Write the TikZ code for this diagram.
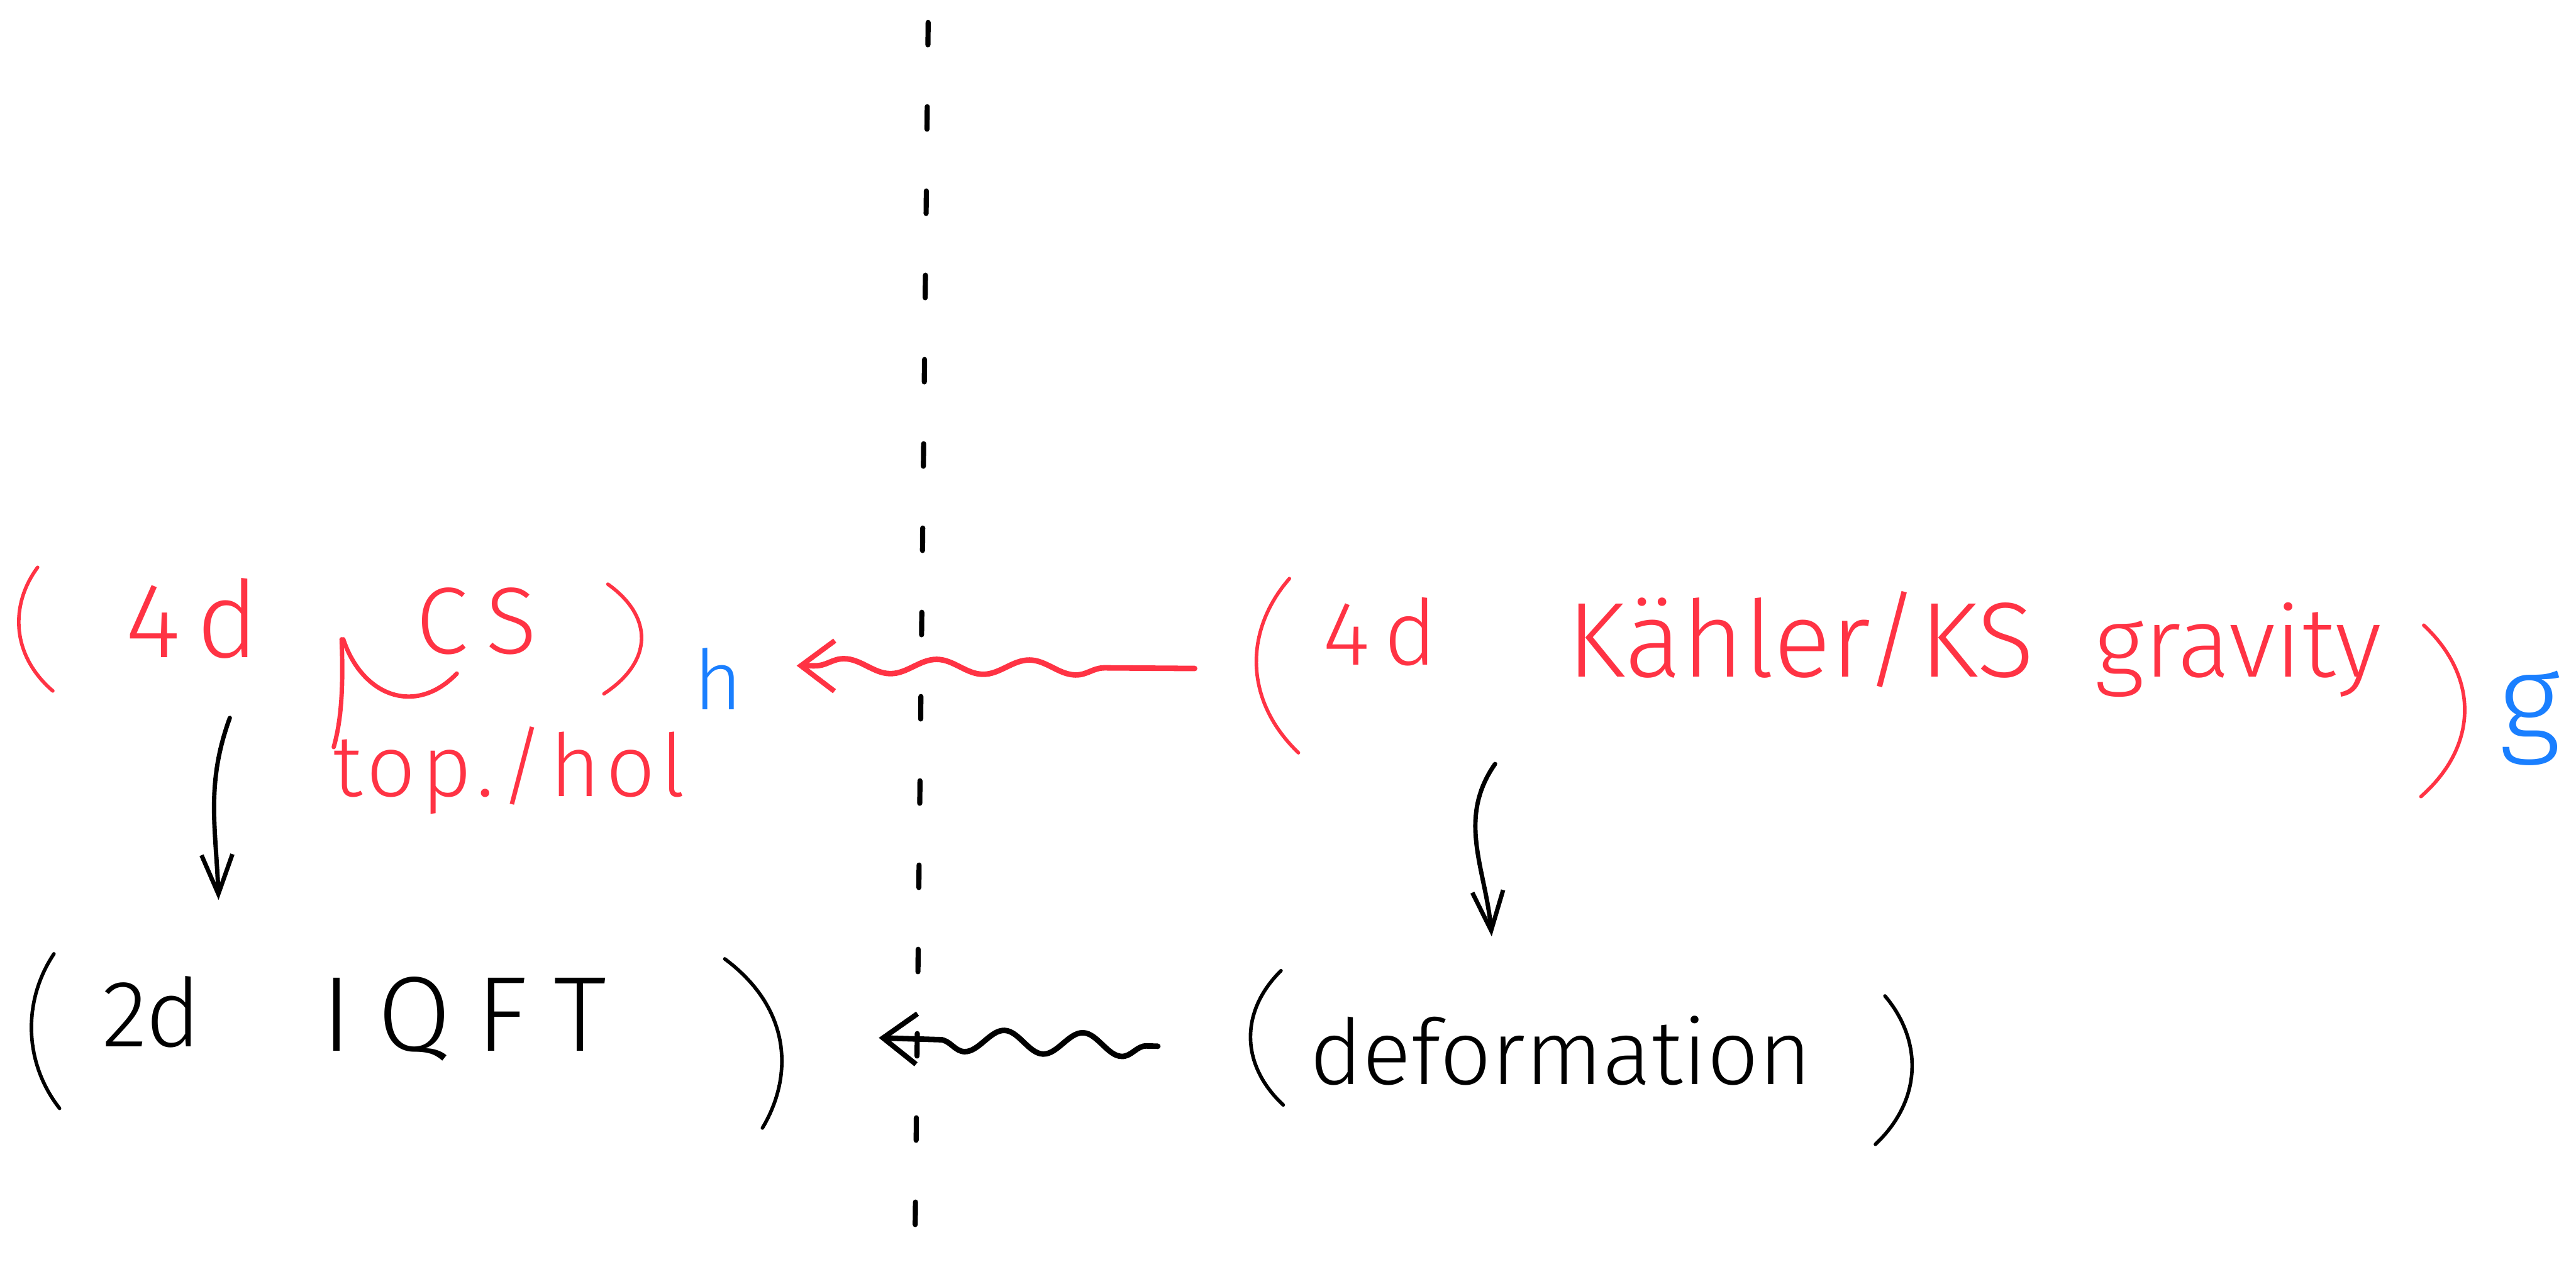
\documentclass[tikz,border=0pt]{standalone}
\usepackage{fontspec}
\setmainfont{Fira Sans Light}
\usetikzlibrary{arrows.meta,decorations.pathmorphing,calc}
\definecolor{inkred}{RGB}{255,51,68}
\definecolor{inkblue}{RGB}{26,127,255}
\newcommand{\hwsize}[1]{\fontsize{#1}{#1}\selectfont}

\begin{document}
\begin{tikzpicture}[
  hw/.style={inner sep=0pt, anchor=base},
  parenline/.style={line width=1.8pt, line cap=round},
  barb/.style={-{Straight Barb[length=#1,width=0.9cm,line width=2.6pt]}},
  wavy/.style={line width=2.8pt, line cap=round, decorate, decoration={snake, amplitude=#1, segment length=1.3cm, pre length=0.2cm, post length=0.4cm}},
  downarr/.style={line width=2.2pt, line cap=round, -{Straight Barb[length=0.7cm,width=0.55cm,line width=2.2pt]}}
]
\useasboundingbox (0,0) rectangle (45.85,-22.76);

\draw[line width=2.6pt, line cap=round, dash pattern=on 0.4cm off 1.1cm] (16.52,-0.40) -- (16.28,-22.70);

% top row, red
\draw[parenline, inkred] (0.67,-10.10) .. controls (0.185,-10.75) and (0.185,-11.65) .. (0.94,-12.30) coordinate[pos=0.5] (A1);
\node[hw, inkred, font=\hwsize{54}\addfontfeatures{LetterSpace=15}] (A2) at (3.42,-11.70) {4d};
\node[hw, inkred, font=\hwsize{48}\addfontfeatures{LetterSpace=20}] (A3) at (8.48,-11.64) {CS};
\draw[parenline, inkred] (10.82,-10.40) .. controls (11.63,-10.98) and (11.63,-11.77) .. (10.75,-12.35) coordinate[pos=0.5] (A4);
\node[hw, inkblue, font=\hwsize{42}] (A5) at (12.78,-12.63) {h};
\node[hw, inkred, font=\hwsize{44}\addfontfeatures{LetterSpace=6}] (A6) at (9.06,-14.18) {top./hol};
\draw[inkred, line width=2.2pt, line cap=round] (6.08,-11.38) .. controls (6.12,-12.4) and (6.05,-12.9) .. (5.94,-13.30);
\draw[inkred, line width=2.2pt, line cap=round] (6.11,-11.38) .. controls (6.45,-12.4) and (7.4,-12.75) .. (8.13,-11.99);

\draw[parenline, inkred] (22.95,-10.30) .. controls (22.14,-11.23) and (22.14,-12.47) .. (23.11,-13.40) coordinate[pos=0.5] (B1);
\node[hw, inkred, font=\hwsize{46}\addfontfeatures{LetterSpace=15}] (B2) at (24.56,-11.84) {4d};
\node[hw, inkred, font=\hwsize{54}] (B3) at (32.05,-12.05) {Kähler/KS};
\node[hw, inkred, font=\hwsize{50}] (B4) at (39.83,-12.05) {gravity};
\draw[parenline, inkred] (43.14,-11.13) .. controls (44.12,-12.05) and (44.12,-13.27) .. (43.09,-14.18) coordinate[pos=0.5] (B5);
\node[inner sep=0pt, inkblue, font=\hwsize{62}] (B6) at (45.03,-12.78) {g};

% bottom row, black
\draw[parenline] (0.96,-16.98) .. controls (0.41,-17.8) and (0.41,-18.9) .. (1.06,-19.73) coordinate[pos=0.5] (C1);
\node[hw, font=\hwsize{48}] (C2) at (2.70,-18.63) {2d};
\node[hw, font=\hwsize{54}\addfontfeatures{LetterSpace=24}] (C3) at (8.26,-18.71) {IQFT};
\draw[parenline] (12.90,-17.07) .. controls (14.11,-17.97) and (14.11,-19.18) .. (13.57,-20.08) coordinate[pos=0.5] (C4);

\draw[parenline] (22.80,-17.28) .. controls (22.07,-18.0) and (22.07,-18.95) .. (22.84,-19.67) coordinate[pos=0.5] (D1);
\node[hw, font=\hwsize{46}] (D2) at (27.78,-19.30) {deformation};
\draw[parenline] (33.55,-17.73) .. controls (34.22,-18.52) and (34.22,-19.58) .. (33.38,-20.37) coordinate[pos=0.5] (D3);

\draw[inkred, wavy=0.13cm, decoration={segment length=1.65cm, pre length=1.6cm, post length=0.3cm}, barb=0.6cm] ($(B1)+(-1.10,-0.05)$) -- ($(B1 -| A4)+(2.76,0)$);
\draw[wavy=0.2cm, decoration={segment length=1.4cm}, barb=0.6cm] ($(D1)+(-1.65,-0.15)$) -- ($(C4)+(1.75,0.10)$);

\draw[downarr] ($(A2.base)+(0.67,-1.08)$) to[out=-110,in=92] ($(C2.base)+(1.19,2.61)$);
\draw[downarr] ($(B2.base)+(2.05,-1.76)$) to[out=-125,in=95] ($(D2.base)+(-1.23,2.63)$);

\end{tikzpicture}
\end{document}
